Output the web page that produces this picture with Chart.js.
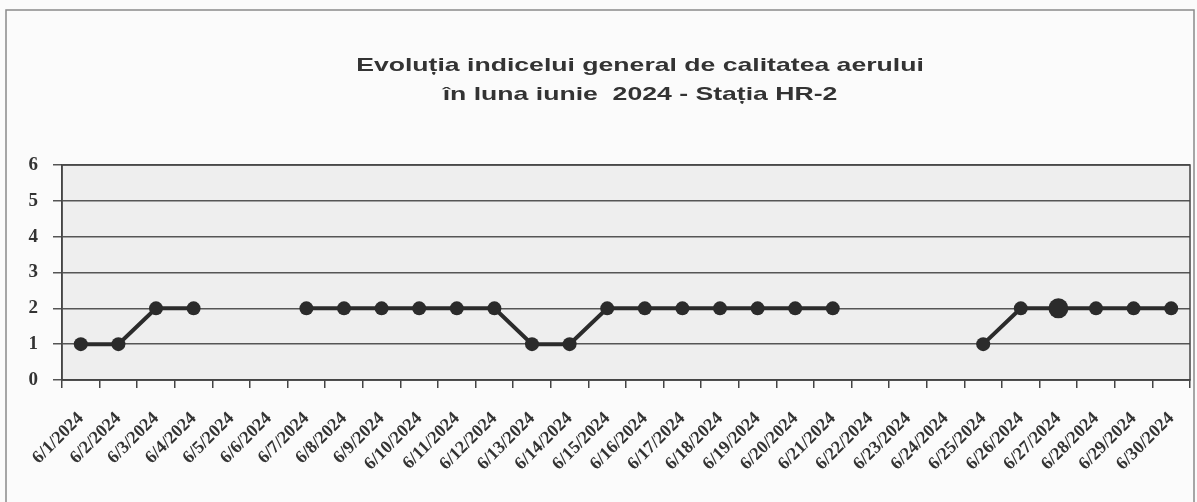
<!DOCTYPE html>
<html>
<head>
<meta charset="utf-8">
<script src="https://cdn.jsdelivr.net/npm/chart.js@4/dist/chart.umd.min.js"></script>
<style>
  html, body { margin: 0; padding: 0; background: #fbfbfb; }
  #wrap { width: 1197px; height: 502px; position: relative; }
</style>
</head>
<body>
<div id="wrap"><canvas id="gCalitate"></canvas></div>
<script>
const titleLines = ["Evoluția indicelui general de calitatea aerului", "în luna iunie  2024 - Stația HR-2"];

const zile = [
  "6/1/2024", "6/2/2024", "6/3/2024", "6/4/2024", "6/5/2024", "6/6/2024",
  "6/7/2024", "6/8/2024", "6/9/2024", "6/10/2024", "6/11/2024", "6/12/2024",
  "6/13/2024", "6/14/2024", "6/15/2024", "6/16/2024", "6/17/2024", "6/18/2024",
  "6/19/2024", "6/20/2024", "6/21/2024", "6/22/2024", "6/23/2024", "6/24/2024",
  "6/25/2024", "6/26/2024", "6/27/2024", "6/28/2024", "6/29/2024", "6/30/2024",
];

const indice = [
  1, 1, 2, 2, null, null,
  2, 2, 2, 2, 2, 2,
  1, 1, 2, 2, 2, 2,
  2, 2, 2, null, null, null,
  1, 2, 2, 2, 2, 2,
];

// marker mai mare pe 6/27
const razaPuncte = zile.map((z) => (z === "6/27/2024" ? 10 : 7));

const yTicks = [0, 1, 2, 3, 4, 5, 6];

const frame = {
  id: "frame",
  beforeDraw(chart) {
    const { ctx, chartArea: a } = chart;
    ctx.save();
    ctx.strokeStyle = "#8a8a8a";
    ctx.lineWidth = 1.5;
    ctx.strokeRect(6, 10, 1188, 500);
    ctx.fillStyle = "#eeeeee";
    ctx.fillRect(a.left, a.top, a.right - a.left, a.bottom - a.top);
    ctx.restore();
  },
  afterDraw(chart) {
    const { ctx, chartArea: a } = chart;
    ctx.save();
    ctx.strokeStyle = "#444";
    ctx.lineWidth = 1.5;
    ctx.strokeRect(a.left, a.top, a.right - a.left, a.bottom - a.top);
    ctx.fillStyle = "#333";
    ctx.font = "bold 19px 'Liberation Sans', Arial, sans-serif";
    ctx.textAlign = "center";
    ctx.textBaseline = "middle";
    // titlul din original e latit pe orizontala
    [66, 95].forEach((y, i) => {
      ctx.save();
      ctx.translate(640, y);
      ctx.scale(1.4, 1);
      ctx.fillText(titleLines[i], 0, 0);
      ctx.restore();
    });
    ctx.restore();
  },
};

new Chart(document.getElementById("gCalitate").getContext("2d"), {
  type: "line",
  data: {
    labels: zile,
    datasets: [
      {
        label: "Indice",
        data: indice,
        borderColor: "#2b2b2b",
        backgroundColor: "#2b2b2b",
        borderWidth: 4,
        pointRadius: razaPuncte,
        pointHoverRadius: razaPuncte,
        pointBorderWidth: 0,
        spanGaps: false,
        tension: 0,
      },
    ],
  },
  options: {
    responsive: true,
    maintainAspectRatio: false,
    animation: false,
    layout: { padding: { left: 0, right: 5, top: 165, bottom: 0 } },
    plugins: {
      legend: { display: false },
      title: { display: false },
      tooltip: { enabled: false },
    },
    scales: {
      x: {
        offset: true,
        afterFit: (scale) => {
          scale.height = 122;
          scale.paddingLeft = 0;
          scale.paddingRight = 0;
        },
        grid: {
          offset: true,
          drawOnChartArea: false,
          drawTicks: true,
          tickLength: 8,
          color: "#444",
          lineWidth: 1.5,
        },
        border: { display: true, color: "#444", width: 1.5 },
        ticks: {
          autoSkip: false,
          maxRotation: 45,
          minRotation: 45,
          padding: 20,
          color: "#333",
          font: { family: "'Liberation Serif', 'Times New Roman', serif", size: 18, weight: "bold" },
        },
      },
      y: {
        min: 0,
        max: 6,
        afterFit: (scale) => { scale.width = 62; },
        afterBuildTicks: (scale) => { scale.ticks = yTicks.map((v) => ({ value: v })); },
        grid: {
          color: "#555",
          lineWidth: 1.5,
          drawTicks: true,
          tickLength: 9,
        },
        border: { display: true, color: "#444", width: 1.5 },
        ticks: {
          padding: 15,
          color: "#333",
          font: { family: "'Liberation Serif', 'Times New Roman', serif", size: 19, weight: "bold" },
        },
      },
    },
  },
  plugins: [frame],
});
</script>
</body>
</html>
